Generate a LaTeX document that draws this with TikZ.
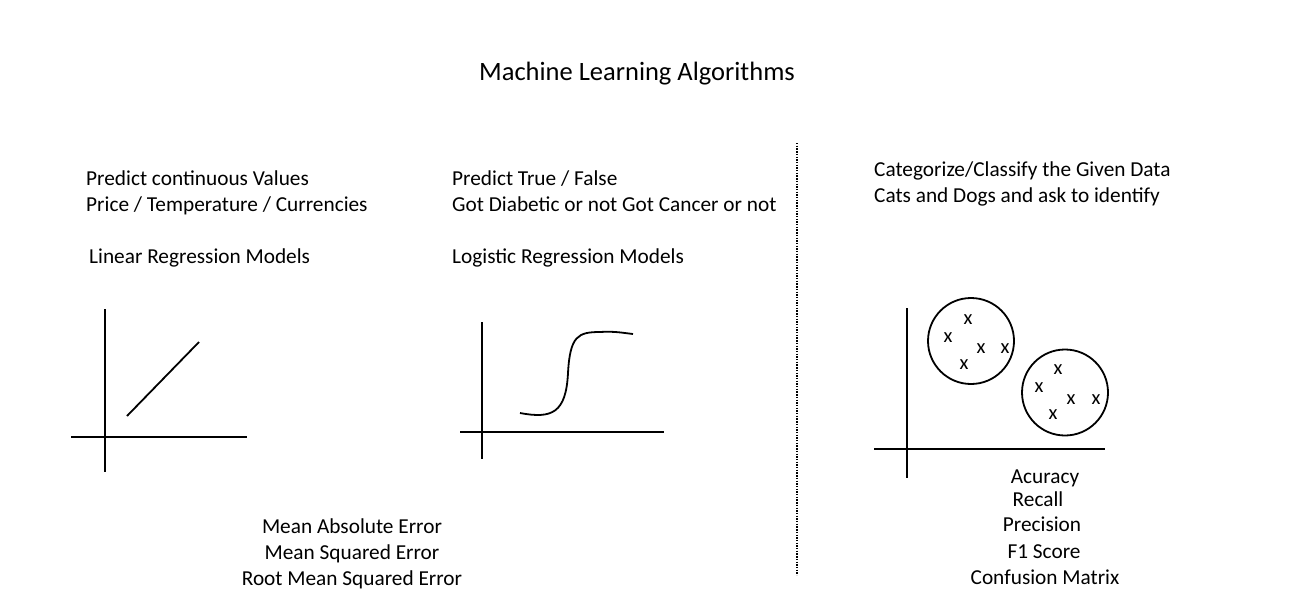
\documentclass[tikz,border=0pt]{standalone}
\usepackage{fontspec}
\setmainfont{Carlito}
\begin{document}
\begin{tikzpicture}[x=1pt,y=-1pt,
  txt/.style={inner sep=0pt,font=\fontsize{21.3}{25}\selectfont,anchor=base west},
  ctxt/.style={inner sep=0pt,font=\fontsize{21.3}{25}\selectfont,anchor=base},
  mark x/.style={inner sep=0pt,font=\fontsize{20.5}{24}\selectfont},
  axis/.style={line width=1.8pt},
  curve/.style={line width=1.8pt},
  grp/.style={draw,circle,line width=1.8pt,inner sep=0pt}]
\useasboundingbox[fill=white] (0,0) rectangle (1300,600);
% title
\node[ctxt,font=\fontsize{26.5}{30}\selectfont] (title) at (637,80) {Machine Learning Algorithms};
% left column
\node[txt] (l1) at (86,185) {Predict continuous Values};
\node[txt] (l2) at (86,211) {Price / Temperature / Currencies};
\node[txt] (l3) at (89,263) {Linear Regression Models};
% middle column
\node[txt] (m1) at (452,185) {Predict True / False};
\node[txt] (m2) at (452,211) {Got Diabetic or not Got Cancer or not};
\node[txt] (m3) at (452,263) {Logistic Regression Models};
% right column
\node[txt] (r1) at (874,176) {Categorize/Classify the Given Data};
\node[txt] (r2) at (874,202) {Cats and Dogs and ask to identify};
% separator
\coordinate (sepT) at (797,143);
\coordinate (sepB) at (797,575);
\draw[line width=1.6pt,dash pattern=on 1.4pt off 1.3pt] (sepT) -- (sepB);
% graph 1
\coordinate (g1vt) at (105,309); \coordinate (g1vb) at (105,472);
\coordinate (g1hl) at (71,437); \coordinate (g1hr) at (247,437);
\coordinate (g1a) at (127,416); \coordinate (g1b) at (199,342);
\draw[axis] (g1vt) -- (g1vb);
\draw[axis] (g1hl) -- (g1hr);
\draw[curve] (g1a) -- (g1b);
% graph 2
\coordinate (g2vt) at (482,322); \coordinate (g2vb) at (482,459);
\coordinate (g2hl) at (460,432); \coordinate (g2hr) at (664,432);
\coordinate (s0) at (520,413); \coordinate (s1) at (568,373);
\coordinate (s2) at (600,332); \coordinate (s3) at (633,334);
\draw[axis] (g2vt) -- (g2vb);
\draw[axis] (g2hl) -- (g2hr);
\draw[curve] (s0) .. controls (552,419) and (566,413) .. (s1)
  .. controls (570,336) and (578,332) .. (s2)
  .. controls (614,331) and (624,333) .. (s3);
% graph 3
\coordinate (g3vt) at (907,308); \coordinate (g3vb) at (907,478);
\coordinate (g3hl) at (874,449); \coordinate (g3hr) at (1105,449);
\draw[axis] (g3vt) -- (g3vb);
\draw[axis] (g3hl) -- (g3hr);
\node[grp,minimum size=86pt] (c1) at (971,341) {};
\node[grp,minimum size=86pt] (c2) at (1065,392.5) {};
\node[mark x] (x1) at (968,320) {x};
\node[mark x] (x2) at (948,338) {x};
\node[mark x] (x3) at (981,349) {x};
\node[mark x] (x4) at (1005,349) {x};
\node[mark x] (x5) at (964,365) {x};
\node[mark x] (y1) at (1058,370) {x};
\node[mark x] (y2) at (1039,388) {x};
\node[mark x] (y3) at (1071,400) {x};
\node[mark x] (y4) at (1096,400) {x};
\node[mark x] (y5) at (1053,415) {x};
% error metrics
\node[ctxt] (e1) at (352,533) {Mean Absolute Error};
\node[ctxt] (e2) at (352,559) {Mean Squared Error};
\node[ctxt] (e3) at (352,585) {Root Mean Squared Error};
% classification metrics
\node[ctxt] (k1) at (1045,483) {Acuracy};
\node[ctxt] (k2) at (1038,506) {Recall};
\node[ctxt] (k3) at (1042,531) {Precision};
\node[ctxt] (k4) at (1044,558) {F1 Score};
\node[ctxt] (k5) at (1045,584) {Confusion Matrix};
\end{tikzpicture}
\end{document}
